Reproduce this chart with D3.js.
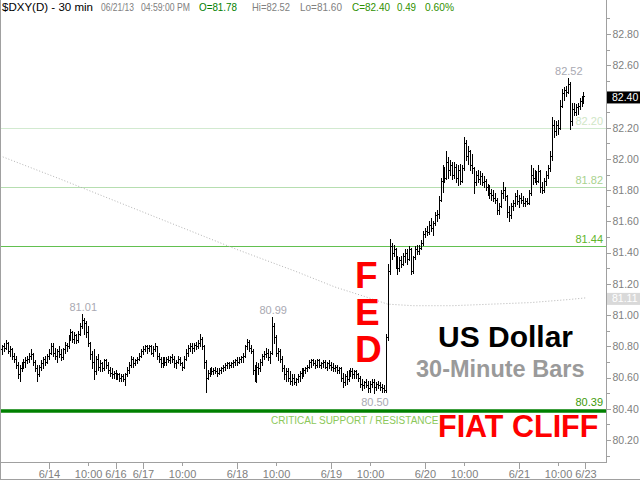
<!DOCTYPE html>
<html><head><meta charset="utf-8">
<script src="https://cdn.jsdelivr.net/npm/d3@7"></script>
<style>html,body{margin:0;padding:0;background:#fff;overflow:hidden}svg{display:block;font-family:Arial,"Liberation Sans",sans-serif}</style>
</head><body><svg id="c" width="640" height="480"></svg>
<script>
// ---- DATA: 30-minute OHLC bars of $DXY, 6/13 12:00 .. 6/21 16:30 ----
const opens = [].concat(
 [80.78,80.80,80.79,80.82,80.77,80.78,80.74,80.72,80.68,80.62,80.66,80.68,80.70,80.71,80.72,80.74,80.75,80.70,80.66,80.62,80.67,80.69,80.72,80.70],
 [80.74,80.76,80.80,80.76,80.74,80.77,80.75,80.73,80.78,80.81,80.80,80.85,80.89,80.85,80.87,80.84,80.88,80.93,80.97,80.95,80.89,80.82,80.75,80.70,80.64,80.72,80.67,80.69,80.66,80.71,80.68,80.65,80.63,80.62],
 [80.63,80.61,80.62,80.60,80.61,80.59,80.62,80.65,80.68,80.72,80.69,80.71,80.72,80.74],
 [80.77,80.78,80.80,80.79,80.80,80.76,80.78,80.80,80.74,80.72,80.69,80.71,80.70,80.72,80.71,80.73,80.72,80.69,80.70,80.72,80.69,80.67,80.72,80.76,80.79,80.80,80.79,80.81,80.80,80.82,80.85,80.80,80.70,80.60,80.63,80.65,80.64,80.65,80.64,80.63,80.65,80.66,80.67,80.68,80.69,80.68,80.69,80.70],
 [80.71,80.70,80.72,80.73,80.74,80.80,80.83,80.79,80.77,80.65,80.62,80.67,80.66,80.70,80.74,80.75,80.76,80.73,80.76,80.93,80.86,80.76,80.77,80.72,80.66,80.62,80.64,80.60,80.58,80.60,80.57,80.59,80.61,80.63,80.62,80.65,80.66,80.67,80.70,80.71,80.69,80.68,80.71,80.68,80.69,80.70,80.67,80.69],
 [80.68,80.67,80.66,80.67,80.65,80.66,80.60,80.57,80.61,80.59,80.63,80.64,80.62,80.64,80.62,80.60,80.56,80.55,80.57,80.55,80.53,80.56,80.57,80.54,80.56,80.55,80.54,80.53,80.52,80.86,81.28,81.44,81.40,81.42,81.34,81.30,81.35,81.33,81.38,81.40,81.36,81.42,81.28,81.37,81.42,81.41,81.43,81.46],
 [81.52,81.54,81.53,81.58,81.56,81.59,81.64,81.65,81.74,81.86,81.92,81.88,81.98,81.93,81.96,81.90,81.95,81.88,81.93,81.86,81.94,82.10,82.02,82.05,81.96,81.94,81.85,81.90,81.87,81.89,81.85,81.86,81.82,81.80,81.78,81.77,81.75,81.74,81.67,81.70,81.78,81.80,81.76,81.66,81.64,81.70,81.72,81.76],
 [81.73,81.75,81.74,81.72,81.73,81.72,81.78,81.90,81.88,81.90,81.86,81.92,81.82,81.80,81.86,81.90,81.94,82.02,82.22,82.18,82.22,82.20,82.34,82.42,82.44,82.43,82.48,82.24,82.32,82.30,82.33,82.34,82.37,82.38]
);
const highs = [].concat(
 [80.81,80.82,80.84,80.83,80.80,80.79,80.76,80.74,80.70,80.68,80.70,80.72,80.73,80.74,80.76,80.78,80.76,80.71,80.68,80.68,80.71,80.73,80.74,80.75],
 [80.78,80.82,80.82,80.79,80.78,80.80,80.78,80.79,80.83,80.82,80.87,80.91,80.90,80.89,80.88,80.90,80.95,81.01,80.98,80.96,80.93,80.83,80.77,80.78,80.74,80.75,80.71,80.70,80.72,80.72,80.70,80.67,80.66,80.64],
 [80.65,80.63,80.63,80.62,80.62,80.63,80.67,80.70,80.74,80.73,80.72,80.73,80.76,80.78],
 [80.80,80.81,80.81,80.81,80.81,80.80,80.82,80.80,80.76,80.73,80.73,80.73,80.73,80.74,80.74,80.75,80.74,80.71,80.74,80.73,80.70,80.74,80.78,80.81,80.82,80.82,80.82,80.83,80.84,80.88,80.86,80.81,80.71,80.65,80.66,80.67,80.66,80.67,80.66,80.66,80.67,80.68,80.69,80.70,80.70,80.70,80.71,80.72],
 [80.73,80.73,80.74,80.76,80.81,80.85,80.84,80.81,80.78,80.68,80.70,80.69,80.72,80.75,80.77,80.79,80.78,80.77,80.99,80.95,80.87,80.79,80.78,80.74,80.68,80.66,80.66,80.64,80.62,80.62,80.60,80.62,80.64,80.66,80.66,80.67,80.68,80.71,80.72,80.72,80.71,80.72,80.72,80.70,80.71,80.71,80.70,80.71],
 [80.70,80.69,80.68,80.68,80.67,80.67,80.63,80.62,80.64,80.65,80.66,80.66,80.65,80.65,80.63,80.61,80.59,80.58,80.59,80.58,80.58,80.59,80.59,80.57,80.58,80.57,80.56,80.55,80.88,81.33,81.49,81.46,81.45,81.43,81.38,81.37,81.38,81.40,81.42,81.42,81.44,81.43,81.38,81.44,81.45,81.45,81.48,81.54],
 [81.56,81.57,81.60,81.62,81.60,81.66,81.67,81.76,81.88,81.96,81.95,82.05,82.01,81.99,81.98,81.98,81.97,81.96,81.97,81.96,82.14,82.12,82.08,82.06,82.03,81.95,81.92,81.93,81.92,81.91,81.89,81.87,81.84,81.83,81.81,81.80,81.78,81.75,81.72,81.80,81.85,81.82,81.77,81.70,81.72,81.74,81.78,81.80],
 [81.77,81.78,81.76,81.75,81.75,81.80,81.96,81.94,81.93,81.92,81.96,81.93,81.85,81.88,81.92,81.96,82.05,82.27,82.25,82.24,82.25,82.38,82.45,82.46,82.47,82.52,82.49,82.36,82.36,82.35,82.36,82.39,82.40,82.43]
);
const lows = [].concat(
 [80.75,80.77,80.78,80.76,80.74,80.72,80.70,80.66,80.60,80.58,80.64,80.66,80.67,80.69,80.70,80.72,80.68,80.64,80.58,80.61,80.65,80.66,80.68,80.69],
 [80.72,80.75,80.74,80.72,80.70,80.73,80.71,80.72,80.76,80.77,80.79,80.84,80.83,80.82,80.82,80.83,80.87,80.92,80.88,80.86,80.80,80.72,80.66,80.59,80.62,80.65,80.64,80.64,80.65,80.66,80.63,80.61,80.60,80.60],
 [80.59,80.59,80.58,80.58,80.58,80.55,80.61,80.63,80.67,80.67,80.68,80.69,80.71,80.73],
 [80.75,80.77,80.76,80.77,80.75,80.74,80.77,80.72,80.70,80.67,80.67,80.68,80.68,80.70,80.69,80.70,80.67,80.66,80.69,80.68,80.65,80.66,80.71,80.74,80.77,80.76,80.77,80.78,80.79,80.80,80.78,80.66,80.51,80.59,80.61,80.62,80.62,80.63,80.61,80.62,80.63,80.64,80.65,80.66,80.66,80.67,80.67,80.68],
 [80.68,80.69,80.70,80.70,80.73,80.78,80.77,80.76,80.62,80.58,80.57,80.62,80.64,80.68,80.72,80.73,80.71,80.69,80.75,80.82,80.74,80.71,80.70,80.64,80.59,80.58,80.58,80.56,80.55,80.56,80.55,80.57,80.58,80.60,80.61,80.63,80.64,80.66,80.67,80.68,80.66,80.67,80.67,80.66,80.67,80.66,80.65,80.66],
 [80.65,80.64,80.64,80.63,80.63,80.58,80.54,80.55,80.56,80.58,80.61,80.60,80.60,80.60,80.58,80.54,80.52,80.53,80.54,80.51,80.51,80.54,80.50,80.52,80.53,80.52,80.51,80.51,80.51,80.84,81.26,81.36,81.38,81.30,81.26,81.28,81.31,81.32,81.34,81.33,81.35,81.26,81.27,81.36,81.39,81.39,81.42,81.45],
 [81.50,81.51,81.52,81.54,81.51,81.58,81.60,81.62,81.73,81.79,81.85,81.87,81.88,81.90,81.87,81.88,81.85,81.83,81.84,81.85,81.93,81.99,81.97,81.93,81.91,81.78,81.83,81.85,81.84,81.83,81.82,81.80,81.77,81.75,81.74,81.73,81.72,81.65,81.65,81.69,81.75,81.74,81.63,81.60,81.62,81.67,81.70,81.71],
 [81.69,81.72,81.70,81.70,81.71,81.71,81.77,81.84,81.85,81.84,81.85,81.79,81.78,81.79,81.83,81.88,81.92,81.99,82.14,82.15,82.16,82.19,82.33,82.38,82.40,82.42,82.19,82.22,82.28,82.28,82.29,82.32,82.34,82.36]
);
const closes = [].concat(
 [80.80,80.79,80.82,80.77,80.78,80.74,80.72,80.68,80.62,80.66,80.68,80.70,80.71,80.72,80.74,80.75,80.70,80.66,80.62,80.67,80.69,80.72,80.70,80.74],
 [80.76,80.80,80.76,80.74,80.77,80.75,80.73,80.78,80.81,80.80,80.85,80.89,80.85,80.87,80.84,80.88,80.93,80.97,80.95,80.89,80.82,80.75,80.70,80.64,80.72,80.67,80.69,80.66,80.71,80.68,80.65,80.63,80.62,80.63],
 [80.61,80.62,80.60,80.61,80.59,80.62,80.65,80.68,80.72,80.69,80.71,80.72,80.74,80.77],
 [80.78,80.80,80.79,80.80,80.76,80.78,80.80,80.74,80.72,80.69,80.71,80.70,80.72,80.71,80.73,80.72,80.69,80.70,80.72,80.69,80.67,80.72,80.76,80.79,80.80,80.79,80.81,80.80,80.82,80.85,80.80,80.70,80.60,80.63,80.65,80.64,80.65,80.64,80.63,80.65,80.66,80.67,80.68,80.69,80.68,80.69,80.70,80.71],
 [80.70,80.72,80.73,80.74,80.80,80.83,80.79,80.77,80.65,80.62,80.67,80.66,80.70,80.74,80.75,80.76,80.73,80.76,80.93,80.86,80.76,80.77,80.72,80.66,80.62,80.64,80.60,80.58,80.60,80.57,80.59,80.61,80.63,80.62,80.65,80.66,80.67,80.70,80.71,80.69,80.68,80.71,80.68,80.69,80.70,80.67,80.69,80.68],
 [80.67,80.66,80.67,80.65,80.66,80.60,80.57,80.61,80.59,80.63,80.64,80.62,80.64,80.62,80.60,80.56,80.55,80.57,80.55,80.53,80.56,80.57,80.54,80.56,80.55,80.54,80.53,80.52,80.86,81.28,81.44,81.40,81.42,81.34,81.30,81.35,81.33,81.38,81.40,81.36,81.42,81.28,81.37,81.42,81.41,81.43,81.46,81.52],
 [81.54,81.53,81.58,81.56,81.59,81.64,81.65,81.74,81.86,81.92,81.88,81.98,81.93,81.96,81.90,81.95,81.88,81.93,81.86,81.94,82.10,82.02,82.05,81.96,81.94,81.85,81.90,81.87,81.89,81.85,81.86,81.82,81.80,81.78,81.77,81.75,81.74,81.67,81.70,81.78,81.80,81.76,81.66,81.64,81.70,81.72,81.76,81.73],
 [81.75,81.74,81.72,81.73,81.72,81.78,81.90,81.88,81.90,81.86,81.92,81.82,81.80,81.86,81.90,81.94,82.02,82.22,82.18,82.22,82.20,82.34,82.42,82.44,82.43,82.48,82.24,82.32,82.30,82.33,82.34,82.37,82.38,82.40]
);
// moving average (dotted), sampled at bar indices
const maIdx  = [-1, 30, 60, 90, 120, 150, 170, 185, 197, 210, 230, 250, 270, 290, 298];
const maVals = [82.02, 81.87, 81.72, 81.57, 81.42, 81.28, 81.18, 81.12, 81.07, 81.06, 81.06, 81.07, 81.08, 81.10, 81.11];
// x-axis ticks (bar index -> label)
const xTickIdx    = [24, 44, 58, 72, 92, 120, 140, 168, 188, 216, 236, 264, 284, 298];
const xTickLabels = ["6/14","10:00","6/16","6/17","10:00","6/18","10:00","6/19","10:00","6/20","10:00","6/21","10:00","6/23"];
// horizontal levels
const levelVals   = [82.20, 81.82, 81.44, 80.39];
const levelText   = ["82.20","81.82","81.44","80.39"];
// highlighted extremes
const peakIdx  = [41, 138, 190, 289];
const peakVals = [81.01, 80.99, 80.50, 82.52];
const peakAbove = [true, true, false, true];
// header
const headerParts = ["$DXY(D) - 30 min","06/21/13","04:59:00 PM","O=81.78","Hi=82.52","Lo=81.60","C=82.40","0.49","0.60%"];
const lastClose = 82.40, lastMA = 81.11;

// ---- CHART ----
const svg = d3.select("#c");
const W = 606, B = 462;
const x = d3.scaleLinear().domain([-1, 308.5]).range([0, W]);
const y = d3.scaleLinear().domain([80.2, 82.8]).range([440, 34]);
const grey = "#a0a0a0";

// level lines
const levelColors = ["#d2ead0", "#b6deb0", "#62c050", "#008000"];
const levelLabelColors = ["#cfe6c6", "#a8d28e", "#5fb52c", "#3d9a08"];
const levelWidths = [1, 1, 1, 3.5];
levelVals.forEach((v, k) => {
  const yy = Math.round(y(v)) + (k === 3 ? 1 : 0.5);
  svg.append("line").attr("x1", 0).attr("x2", W).attr("y1", yy).attr("y2", yy)
    .attr("stroke", levelColors[k]).attr("stroke-width", levelWidths[k]);
  svg.append("text").attr("x", 603).attr("y", y(v) - (k === 3 ? 4 : 3)).attr("text-anchor", "end")
    .attr("font-size", 11).attr("fill", levelLabelColors[k]).text(levelText[k]);
});

// moving average
svg.append("path").datum(d3.zip(maIdx, maVals))
  .attr("d", d3.line().x(d => x(d[0])).y(d => y(d[1])))
  .attr("fill", "none").attr("stroke", "#b4b4b4").attr("stroke-width", 1).attr("stroke-dasharray", "1,2");

// OHLC bars
svg.append("g").attr("shape-rendering", "crispEdges").attr("stroke", "#000").attr("stroke-width", 1)
  .selectAll("path").data(d3.range(opens.length)).join("path")
  .attr("d", i => {
    const px = Math.round(x(i));
    const yh = Math.round(y(highs[i])), yl = Math.round(y(lows[i]));
    const yo = Math.round(y(opens[i])) + 0.5, yc = Math.round(y(closes[i])) + 0.5;
    return `M${px + 0.5},${yh}V${yl + 1}M${px - 1},${yo}H${px}M${px + 1},${yc}H${px + 2}`;
  });

// peak labels
peakIdx.forEach((pi, k) => {
  svg.append("text").attr("x", x(pi) + 1).attr("y", peakAbove[k] ? y(peakVals[k]) - 3 : y(peakVals[k]) + 13)
    .attr("text-anchor", "middle").attr("font-size", 11).attr("fill", "#a9a9b2").text(peakVals[k].toFixed(2));
});

// annotations
const fed = ["F", "E", "D"];
fed.forEach((t, k) => svg.append("text").attr("x", 355).attr("y", 288 + 37 * k)
  .attr("font-size", 37).attr("font-weight", "bold").attr("fill", "#ff0000").text(t));
svg.append("text").attr("x", 438).attr("y", 347).attr("font-size", 30).attr("font-weight", "bold")
  .attr("fill", "#000").text("US Dollar");
svg.append("text").attr("x", 416).attr("y", 377).attr("font-size", 23.5).attr("font-weight", "bold")
  .attr("fill", "#9a9a9a").text("30-Minute Bars");
svg.append("text").attr("x", 271).attr("y", 424).attr("font-size", 10)
  .attr("fill", "#8cc85a").text("CRITICAL SUPPORT / RESISTANCE");
svg.append("text").attr("x", 438).attr("y", 437).attr("font-size", 30.5).attr("font-weight", "bold")
  .attr("fill", "#ff0000").text("FIAT CLIFF");

// frame
svg.append("g").attr("stroke", grey).attr("shape-rendering", "crispEdges").call(g => {
  g.append("line").attr("x1", 0.5).attr("x2", 0.5).attr("y1", 0).attr("y2", 480);
  g.append("line").attr("x1", 0).attr("x2", 640).attr("y1", 479.5).attr("y2", 479.5);
  g.append("line").attr("x1", 0).attr("x2", W + 1).attr("y1", B + 0.5).attr("y2", B + 0.5);
  g.append("line").attr("x1", W + 0.5).attr("x2", W + 0.5).attr("y1", 0).attr("y2", B);
});

// right axis
const allTicks = d3.range(801, 830).map(d => d / 10);
const major = allTicks.filter(d => Math.round(d * 10) % 2 === 0);
const minor = allTicks.filter(d => Math.round(d * 10) % 2 !== 0);
const ya = svg.append("g").attr("transform", `translate(${W + 0.5},0)`)
  .call(d3.axisRight(y).tickValues(major).tickSize(4).tickPadding(2).tickFormat(d3.format(".2f")));
const yb = svg.append("g").attr("transform", `translate(${W + 0.5},0)`)
  .call(d3.axisRight(y).tickValues(minor).tickSize(3).tickFormat(""));
[ya, yb].forEach(g => {
  g.select(".domain").remove();
  g.selectAll("line").attr("stroke", grey).attr("shape-rendering", "crispEdges");
  g.selectAll("text").attr("fill", "#808080").attr("font-size", 10.5)
    .attr("font-family", "Arial, 'Liberation Sans', sans-serif");
});

// value boxes on axis
[[lastClose, "#000", "#fff"], [lastMA, "#d9d9d9", "#fff"]].forEach(([v, bg, fg]) => {
  svg.append("rect").attr("x", W + 1).attr("y", y(v) - 5).attr("width", 640 - W - 1).attr("height", 12).attr("fill", bg);
  svg.append("text").attr("x", W + 6).attr("y", y(v) + 1).attr("dy", "0.32em").attr("font-size", 10.5)
    .attr("fill", fg).text(v.toFixed(2));
});

// bottom axis
const xa = svg.append("g").attr("transform", `translate(0,${B + 0.5})`)
  .call(d3.axisBottom(x).tickValues(xTickIdx).tickSize(5).tickPadding(3).tickFormat((d, i) => xTickLabels[i]));
xa.select(".domain").remove();
xa.selectAll("line").attr("stroke", grey).attr("shape-rendering", "crispEdges")
  .attr("y2", (d, i) => xTickLabels[i] === "10:00" ? 3 : 6);
xa.selectAll("text").attr("fill", "#808080").attr("font-size", 11)
  .attr("font-family", "Arial, 'Liberation Sans', sans-serif").attr("y", 8);

// header (single text line with positioned parts)
const hx = [2, 101, 141, 199, 252, 300, 352, 397, 425];
const hw = [91, 33, 49, 38, 38, 42, 38, 19, 29];
const hs = [11.5, 10.5, 10.5, 10.5, 10.5, 10.5, 10.5, 10.5, 10.5];
const hc = ["#000", "#808080", "#808080", "#008000", "#808080", "#808080", "#2f9000", "#2f9000", "#2f9000"];
const header = svg.append("text").attr("y", 11);
headerParts.forEach((t, k) => header.append("tspan").attr("x", hx[k]).attr("y", 11)
  .attr("textLength", hw[k]).attr("lengthAdjust", "spacingAndGlyphs")
  .attr("font-size", hs[k]).attr("fill", hc[k]).text(t));
</script></body></html>
